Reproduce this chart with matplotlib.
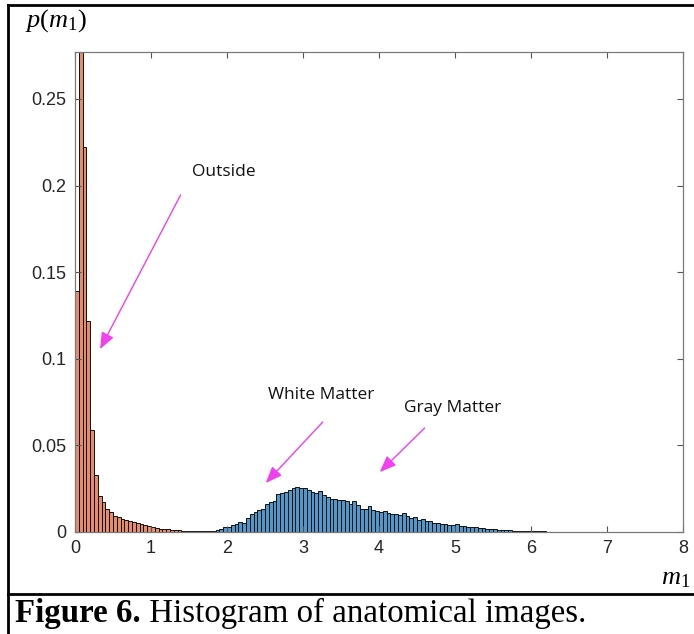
import numpy as np
import matplotlib
matplotlib.use("Agg")
import matplotlib.pyplot as plt
from matplotlib.lines import Line2D

plt.rcParams["mathtext.fontset"] = "custom"
plt.rcParams["mathtext.rm"] = "Liberation Serif"
plt.rcParams["mathtext.it"] = "Liberation Serif:italic"
plt.rcParams["mathtext.bf"] = "Liberation Serif:bold"

# Histogram bins (width 0.05 on m1 from 0 to 8)
bin_width = 0.05
bin_start = 0.0

# Probability of each bin for voxels outside the brain
outside_p = [
    0.1393, 0.36, 0.222, 0.1218, 0.0589, 0.0330, 0.0210, 0.0172, 0.0134, 0.0114,
    0.0094, 0.0088, 0.0075, 0.0069, 0.0063, 0.0056, 0.0050, 0.0044, 0.0038, 0.0033,
    0.0030, 0.0023, 0.0020, 0.0018, 0.0015, 0.0013, 0.0011, 0.0009, 0.0008, 0.0008,
    0.0007, 0.0006, 0.0006, 0.0005, 0.0005, 0.0005, 0.0006,
]

# Probability of each bin for brain tissue (white + gray matter), starting at m1 = 1.85
brain_p = [
    0.0012, 0.0019, 0.0029, 0.0030, 0.0042, 0.0048, 0.0058, 0.0052, 0.0083, 0.0105,
    0.0115, 0.0125, 0.0135, 0.0160, 0.0173, 0.0180, 0.0221, 0.0225, 0.0231, 0.0244,
    0.0256, 0.0258, 0.0256, 0.0254, 0.0240, 0.0231, 0.0225, 0.0237, 0.0212, 0.0202,
    0.0192, 0.0192, 0.0187, 0.0187, 0.0179, 0.0164, 0.0177, 0.0158, 0.0135, 0.0135,
    0.0148, 0.0129, 0.0121, 0.0115, 0.0121, 0.0110, 0.0102, 0.0102, 0.0096, 0.0110,
    0.0090, 0.0083, 0.0087, 0.0071, 0.0077, 0.0062, 0.0064, 0.0052, 0.0052, 0.0044,
    0.0044, 0.0042, 0.0038, 0.0048, 0.0033, 0.0033, 0.0031, 0.0028, 0.0030, 0.0024,
    0.0022, 0.0020, 0.0018, 0.0016, 0.0014, 0.0012, 0.0010, 0.0009, 0.0008, 0.0007,
    0.0006, 0.0005, 0.0004, 0.0004, 0.0003, 0.0003, 0.0003, 0.0002, 0.0002, 0.0002,
    0.0002, 0.0001, 0.0001, 0.0001, 0.0001, 0.0001, 0.0001, 0.0001, 0.0001, 0.0001,
]

x_ticks = [0, 1, 2, 3, 4, 5, 6, 7, 8]
y_ticks = [0, 0.05, 0.1, 0.15, 0.2, 0.25]
y_tick_labels = ["0", "0.05", "0.1", "0.15", "0.2", "0.25"]

annotations = [
    ("Outside", (1.96, 0.208), (1.39, 0.1946), (0.33, 0.1056)),
    ("White Matter", (3.24, 0.0791), (3.26, 0.0635), (2.51, 0.0283)),
    ("Gray Matter", (4.97, 0.0716), (4.60, 0.0600), (4.01, 0.0346)),
]

orange = "#E38D69"
blue = "#5297CA"
magenta = "#F040F0"

fig = plt.figure(figsize=(6.94, 6.34), dpi=100)
ax = fig.add_axes([75 / 694, 1 - 532 / 634, (683 - 75) / 694, (532 - 51.5) / 634])

out_left = bin_start + bin_width * np.arange(len(outside_p))
brain_left = bin_start + bin_width * (len(outside_p) + np.arange(len(brain_p)))

ax.bar(out_left, outside_p, width=bin_width, align="edge", color=orange,
       edgecolor="#111111", linewidth=0.7)
ax.bar(brain_left, brain_p, width=bin_width, align="edge", color=blue,
       edgecolor="#111111", linewidth=0.7)

ax.set_xlim(0, 8)
ax.set_ylim(0, 0.2774)
ax.set_xticks(x_ticks)
ax.set_yticks(y_ticks)
ax.set_yticklabels(y_tick_labels)
ax.tick_params(direction="in", top=True, right=True, length=4, width=0.8,
               color="#555555", labelsize=13, pad=6)
for lab in ax.get_xticklabels() + ax.get_yticklabels():
    lab.set_fontfamily("Liberation Sans")
    lab.set_color("#262626")
for sp in ax.spines.values():
    sp.set_color("#7a7a7a")
    sp.set_linewidth(0.9)

for text, txy, start, end in annotations:
    ax.text(txy[0], txy[1], text, fontsize=12.5, family="Open Sans",
            ha="center", va="center", color="#111111")
    ax.annotate("", xy=end, xytext=start,
                arrowprops=dict(arrowstyle="-|>,head_length=1.0,head_width=0.4",
                                color=magenta, lw=1.0, shrinkA=0, shrinkB=0))

# Axis labels in the corners
fig.text(25 / 694, 1 - 21 / 634, r"$p(m_1)$", fontsize=19, ha="left", va="center")
fig.text(690 / 694, 1 - 577 / 634, r"$m_1$", fontsize=19, ha="right", va="center")

# Frame around figure and caption
frame = dict(color="black", lw=2.0, transform=fig.transFigure)
fig.add_artist(Line2D([8 / 694, 8 / 694], [0, 1 - 5 / 634], **frame))
fig.add_artist(Line2D([8 / 694, 1], [1 - 5 / 634, 1 - 5 / 634], **frame))
fig.add_artist(Line2D([8 / 694, 1], [1 - 594 / 634, 1 - 594 / 634], **frame))

caption_y = 1 - 622 / 634
t1 = fig.text(15 / 694, caption_y, "Figure 6.", fontsize=23.7,
              family="Liberation Serif", weight="bold", ha="left", va="baseline")
t2 = fig.text(0, caption_y, " Histogram of anatomical images.", fontsize=23.7,
              family="Liberation Serif", ha="left", va="baseline")
fig.canvas.draw()
bb = t1.get_window_extent()
t2.set_position((bb.x1 / fig.bbox.width, caption_y))

fig.savefig("out.png", dpi=100)
